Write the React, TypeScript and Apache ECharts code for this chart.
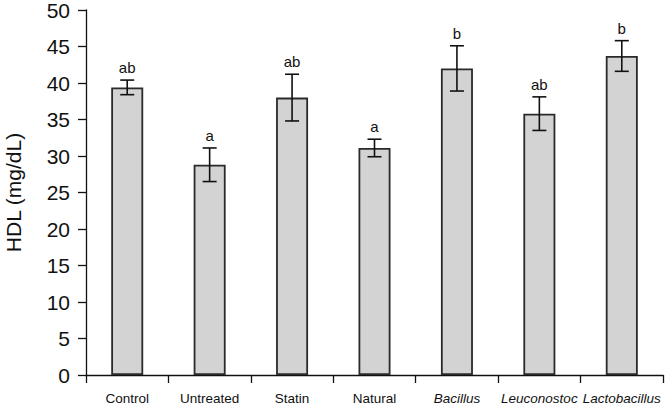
import React, { useEffect, useRef } from "react";
import * as echarts from "echarts";

const categories = ["Control", "Untreated", "Statin", "Natural", "Bacillus", "Leuconostoc", "Lactobacillus"];
const italicCats = ["Bacillus", "Leuconostoc", "Lactobacillus"];
const means = [39.4, 28.8, 38.0, 31.1, 42.0, 35.8, 43.7];
const errors = [1.0, 2.3, 3.2, 1.2, 3.1, 2.3, 2.1];
const letters = ["ab", "a", "ab", "a", "b", "ab", "b"];
const yTicks = { min: 0, max: 50, interval: 5 };

const FONT = "Liberation Sans, Arial, sans-serif";

export default function App() {
  const ref = useRef<HTMLDivElement>(null);
  useEffect(() => {
    if (!ref.current) return;
    const chart = echarts.init(ref.current, null, { renderer: "svg" });
    const errData = means.map((m, i) => [i, m - errors[i], m + errors[i], letters[i]]);
    chart.setOption({
      animation: false,
      backgroundColor: "#ffffff",
      grid: { left: 86, right: 3, top: 10, bottom: 30, outerBoundsMode: "none", containLabel: false },
      xAxis: {
        type: "category",
        data: categories,
        boundaryGap: true,
        axisLine: { lineStyle: { color: "#111", width: 1.3 } },
        axisTick: { show: true, length: 8, alignWithLabel: false, lineStyle: { color: "#111", width: 1.3 } },
        axisLabel: {
          interval: 0,
          margin: 16,
          color: "#111",
          fontFamily: FONT,
          fontSize: 13.5,
          formatter: (v: string) => (italicCats.includes(v) ? `{i|${v}}` : v),
          rich: {
            i: { fontStyle: "italic", fontFamily: FONT, fontSize: 13.5, color: "#111" },
          },
        },
      },
      yAxis: {
        type: "value",
        min: yTicks.min,
        max: yTicks.max,
        interval: yTicks.interval,
        name: "HDL (mg/dL)",
        nameLocation: "middle",
        nameGap: 62,
        nameTextStyle: { fontSize: 21, color: "#111", fontFamily: FONT },
        splitLine: { show: false },
        axisLine: { show: true, lineStyle: { color: "#111", width: 1.3 } },
        axisTick: { show: true, length: 8, lineStyle: { color: "#111", width: 1.3 } },
        axisLabel: {
          margin: 16,
          color: "#111",
          fontSize: 21,
          fontFamily: FONT,
        },
      },
      series: [
        {
          type: "bar",
          data: means,
          barWidth: 32,
          itemStyle: { color: "#d3d3d3", borderColor: "#2a2a2a", borderWidth: 1.8 },
        },
        {
          type: "custom",
          data: errData,
          z: 10,
          renderItem: (params: any, api: any) => {
            const x = api.value(0);
            const lo = api.coord([x, api.value(1)]);
            const hi = api.coord([x, api.value(2)]);
            const cap = 7;
            const style = { stroke: "#111", lineWidth: 1.6 };
            const letter = letters[params.dataIndex];
            return {
              type: "group",
              children: [
                { type: "line", shape: { x1: lo[0], y1: lo[1], x2: hi[0], y2: hi[1] }, style },
                { type: "line", shape: { x1: lo[0] - cap, y1: lo[1], x2: lo[0] + cap, y2: lo[1] }, style },
                { type: "line", shape: { x1: hi[0] - cap, y1: hi[1], x2: hi[0] + cap, y2: hi[1] }, style },
                {
                  type: "text",
                  x: hi[0],
                  y: hi[1] - 5,
                  style: {
                    text: letter,
                    fill: "#111",
                    fontSize: 15,
                    fontFamily: FONT,
                    align: "center",
                    verticalAlign: "bottom",
                  },
                },
              ],
            };
          },
        },
      ],
    });
    return () => chart.dispose();
  }, []);
  return <div ref={ref} style={{ width: 666, height: 405, position: "absolute", left: 0, top: 0 }} />;
}
